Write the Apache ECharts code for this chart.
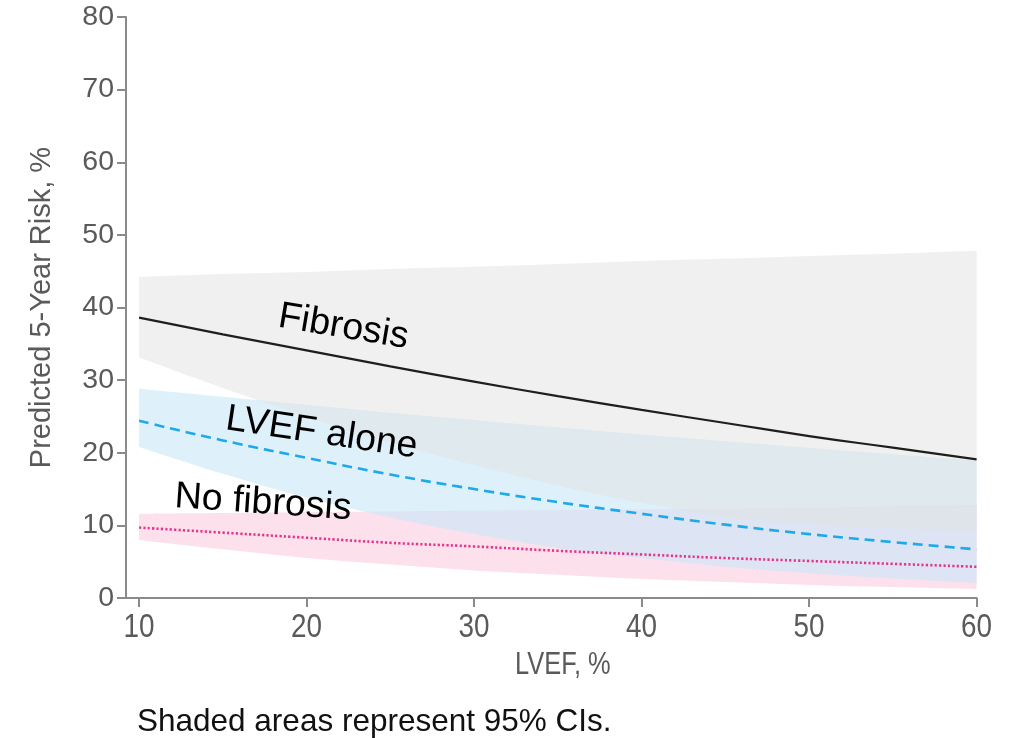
<!DOCTYPE html>
<html>
<head>
<meta charset="utf-8">
<script src="https://cdn.jsdelivr.net/npm/echarts@6/dist/echarts.min.js"></script>
<style>
  html, body { margin: 0; padding: 0; background: #ffffff; }
  #chart { width: 1015px; height: 738px; }
</style>
</head>
<body>
<div id="chart"></div>
<script>
// LVEF grid (%) and predicted 5-year risk (%) with 95% confidence bounds
const lvef = [10, 15, 20, 25, 30, 35, 40, 45, 50, 55, 60];

const fibrosis     = [38.6, 36.3, 34.1, 31.9, 29.8, 27.8, 25.9, 24.1, 22.3, 20.7, 19.1];
const fibrosisLow  = [33.1, 28.9, 25.0, 21.4, 18.3, 15.5, 13.1, 11.2, 10.2, 9.6, 9.2];
const fibrosisHigh = [44.2, 44.6, 44.9, 45.3, 45.6, 46.0, 46.4, 46.7, 47.1, 47.4, 47.8];

const lvefAlone     = [24.4, 21.7, 19.3, 17.0, 15.0, 13.2, 11.6, 10.1, 8.8, 7.7, 6.7];
const lvefAloneLow  = [20.8, 17.1, 13.8, 11.1, 8.8, 6.9, 5.5, 4.3, 3.4, 2.7, 2.1];
const lvefAloneHigh = [28.8, 27.7, 26.6, 25.5, 24.5, 23.5, 22.5, 21.6, 20.7, 19.8, 18.9];

const noFibrosis     = [9.7, 9.0, 8.3, 7.6, 7.1, 6.5, 6.0, 5.5, 5.1, 4.7, 4.3];
const noFibrosisLow  = [8.0, 6.7, 5.5, 4.6, 3.8, 3.2, 2.6, 2.2, 1.8, 1.5, 1.2];
const noFibrosisHigh = [11.6, 11.7, 11.8, 11.9, 12.0, 12.1, 12.2, 12.3, 12.4, 12.6, 12.8];

const xTicks = [10, 20, 30, 40, 50, 60];

const AXIS_COLOR = '#8a8a8a';
const LABEL_COLOR = '#5a5a5a';
const FONT = '"Liberation Sans", Arial, Helvetica, sans-serif';

// Smooth open path through pixel points (Catmull-Rom converted to cubic Bezier)
function smoothSegments(pts) {
  let d = '';
  for (let i = 0; i < pts.length - 1; i++) {
    const p0 = pts[Math.max(i - 1, 0)], p1 = pts[i], p2 = pts[i + 1], p3 = pts[Math.min(i + 2, pts.length - 1)];
    const c1 = [p1[0] + (p2[0] - p0[0]) / 6, p1[1] + (p2[1] - p0[1]) / 6];
    const c2 = [p2[0] - (p3[0] - p1[0]) / 6, p2[1] - (p3[1] - p1[1]) / 6];
    d += ' C' + c1[0] + ' ' + c1[1] + ' ' + c2[0] + ' ' + c2[1] + ' ' + p2[0] + ' ' + p2[1];
  }
  return d;
}

// Confidence band drawn as a filled region between its lower and upper bound
function band(low, high, color) {
  return {
    type: 'custom', silent: true, z: 1,
    data: [[lvef[0], low[0]]],
    renderItem: (params, api) => {
      const top = lvef.map((x, i) => api.coord([x, high[i]]));
      const bottom = lvef.map((x, i) => api.coord([x, low[i]])).reverse();
      const d = 'M' + top[0][0] + ' ' + top[0][1] + smoothSegments(top) +
        ' L' + bottom[0][0] + ' ' + bottom[0][1] + smoothSegments(bottom) + ' Z';
      return { type: 'path', shape: { pathData: d }, style: { fill: color, stroke: null } };
    }
  };
}

function curve(values, color, width, type) {
  return {
    type: 'line', smooth: true, symbol: 'none', silent: true,
    data: lvef.map((x, i) => [x, values[i]]),
    lineStyle: { color: color, width: width, type: type, cap: 'butt' },
    z: 5
  };
}

const chart = echarts.init(document.getElementById('chart'), null, { renderer: 'canvas' });

chart.setOption({
  animation: false,
  backgroundColor: '#ffffff',
  grid: { left: 126, right: 38.4, top: 17, bottom: 140, containLabel: false, outerBoundsMode: 'none' },
  xAxis: {
    type: 'value', min: 9.22, max: 60,
    axisLine: { show: true, lineStyle: { color: AXIS_COLOR, width: 2 } },
    axisTick: { show: true, customValues: xTicks, length: 9, lineStyle: { color: AXIS_COLOR, width: 2 } },
    axisLabel: { show: false },
    splitLine: { show: false }
  },
  yAxis: {
    type: 'value', min: 0, max: 80, interval: 10,
    axisLine: { show: true, lineStyle: { color: AXIS_COLOR, width: 2 } },
    axisTick: { show: true, length: 9, lineStyle: { color: AXIS_COLOR, width: 2 } },
    axisLabel: { color: LABEL_COLOR, fontSize: 28.5, margin: 12, fontFamily: FONT },
    splitLine: { show: false },
    name: 'Predicted 5-Year Risk, %', nameLocation: 'middle', nameRotate: 90, nameGap: 70,
    nameTextStyle: { color: LABEL_COLOR, fontSize: 29, fontFamily: FONT }
  },
  series: [
    band(noFibrosisLow, noFibrosisHigh, 'rgb(252,225,237)'),
    band(lvefAloneLow, lvefAloneHigh, 'rgba(200,230,247,0.6)'),
    band(fibrosisLow, fibrosisHigh, 'rgba(226,226,226,0.5)'),
    curve(noFibrosis, '#e6348d', 2.6, [2.2, 2.2]),
    curve(lvefAlone, '#1ea9e8', 2.6, [10, 6]),
    curve(fibrosis, '#1e1e1e', 2.2, 'solid')
  ]
});

// Condensed x-axis tick labels and title, placed from axis values
const graphics = xTicks.map(v => {
  const p = chart.convertToPixel({ gridIndex: 0 }, [v, 0]);
  return {
    type: 'text', x: p[0], y: p[1] + 30, scaleX: 0.82, z: 10,
    style: { text: String(v), fill: LABEL_COLOR, fontSize: 34, align: 'center', verticalAlign: 'middle', fontFamily: FONT }
  };
});
const xMid = chart.convertToPixel({ gridIndex: 0 }, [35.3, 0]);
graphics.push({
  type: 'text', x: xMid[0], y: xMid[1] + 67, scaleX: 0.82, z: 10,
  style: { text: 'LVEF, %', fill: LABEL_COLOR, fontSize: 31, align: 'center', verticalAlign: 'middle', fontFamily: FONT }
});

// Series names written along the curves, anchored in data coordinates
const seriesLabels = [
  { text: 'Fibrosis',    at: [22.2, 37.3], angle: -9.5 },
  { text: 'LVEF alone',  at: [20.9, 22.7], angle: -8.5 },
  { text: 'No fibrosis', at: [17.4, 13.1], angle: -4 }
];
seriesLabels.forEach(l => {
  const p = chart.convertToPixel({ gridIndex: 0 }, l.at);
  graphics.push({
    type: 'text', x: p[0], y: p[1], rotation: l.angle * Math.PI / 180, z: 10,
    style: { text: l.text, fill: '#000000', fontSize: 37.5, align: 'center', verticalAlign: 'middle', fontFamily: FONT }
  });
});

graphics.push({
  type: 'text', x: 137, y: 722, z: 10,
  style: { text: 'Shaded areas represent 95% CIs.', fill: '#111111', fontSize: 31.5, verticalAlign: 'middle', fontFamily: FONT }
});

chart.setOption({ graphic: graphics });
</script>
</body>
</html>
